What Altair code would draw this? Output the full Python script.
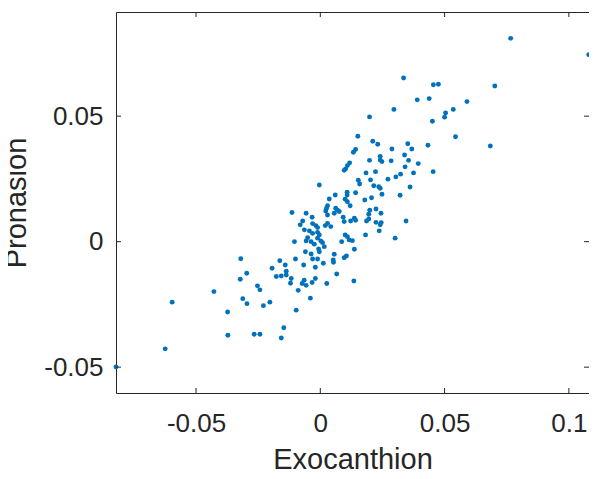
import altair as alt
import pandas as pd

# Exocanthion (x) and Pronasion (y) values
X = [0.0335, 0.0455, 0.0390, 0.0438, 0.0296, 0.0198, 0.0451, 0.0151, 0.0211, 0.0231,
     0.0352, 0.0433, 0.0766, 0.1080, 0.0475, 0.0702, 0.0590, 0.0535, 0.0504, 0.0500,
     0.0544, 0.0684, -0.0320, -0.0194, -0.0296, -0.0322, -0.0428, -0.0253, -0.0243, -0.0596,
     -0.0312, -0.0295, -0.0229, -0.0203, -0.0373, -0.0372, -0.0266, -0.0243, -0.0624, -0.0822,
     -0.0137, -0.0177, -0.0157, -0.0137, -0.0117, -0.0120, -0.0065, -0.0073, -0.0057, -0.0033,
     -0.0020, 0.0066, 0.0026, 0.0135, -0.0089, -0.0040, -0.0097, -0.0147, -0.0157,
     0.0142, 0.0133, 0.0288, 0.0368, 0.0241, 0.0241, 0.0248, 0.0198, 0.0285, 0.0339,
     0.0355, 0.0394, 0.0118, 0.0109, 0.0102, 0.0096, 0.0341, 0.0454, 0.0184, 0.0222,
     0.0323, 0.0304, 0.0375, 0.0272, 0.0202, 0.0153, 0.0158, 0.0215, 0.0235, 0.0241,
     0.0248, 0.0361, -0.0004, 0.0142, 0.0108, 0.0108, 0.0060, 0.0321, 0.0206, 0.0179,
     0.0100, 0.0109, 0.0120, 0.0036, 0.0029, 0.0025, 0.0022, 0.0029, 0.0062, 0.0069,
     0.0076, 0.0056, 0.0224, 0.0199, 0.0195, 0.0244, 0.0092, 0.0096, 0.0137, 0.0142,
     0.0122, 0.0195, 0.0186, 0.0224, 0.0245, 0.0241, -0.0114, -0.0057, -0.0033, -0.0071,
     -0.0081, -0.0031, -0.0018, -0.0011, 0.0020, 0.0029, 0.0042, 0.0345, -0.0064, -0.0044,
     -0.0031, -0.0011, -0.0004, -0.0011, -0.0051, -0.0057, -0.0037, 0.0002, 0.0009, 0.0016,
     -0.0024, -0.0104, 0.0237, 0.0182, 0.0100, 0.0109, 0.0116, 0.0129, 0.0086, 0.0301,
     0.0137, -0.0060, -0.0037, -0.0007, -0.0004, 0.0056, 0.0052, 0.0053, 0.0105, 0.0096,
     -0.0100, -0.0031, -0.0011, 0.0012, -0.0067, -0.0163, -0.0141, -0.0020]
Y = [0.0652, 0.0625, 0.0565, 0.0570, 0.0527, 0.0497, 0.0480, 0.0420, 0.0400, 0.0388,
     0.0390, 0.0384, 0.0810, 0.0745, 0.0627, 0.0620, 0.0558, 0.0527, 0.0513, 0.0496,
     0.0418, 0.0381, -0.0068, -0.0106, -0.0126, -0.0150, -0.0199, -0.0176, -0.0192, -0.0241,
     -0.0227, -0.0247, -0.0255, -0.0241, -0.0280, -0.0373, -0.0369, -0.0369, -0.0427, -0.0499,
     -0.0118, -0.0139, -0.0137, -0.0133, -0.0147, -0.0166, -0.0154, -0.0167, -0.0174, -0.0163,
     -0.0147, -0.0129, -0.0167, -0.0157, -0.0194, -0.0225, -0.0273, -0.0343, -0.0384,
     0.0367, 0.0356, 0.0369, 0.0369, 0.0339, 0.0325, 0.0319, 0.0324, 0.0322, 0.0345,
     0.0324, 0.0311, 0.0314, 0.0303, 0.0290, 0.0284, 0.0298, 0.0279, 0.0274, 0.0279,
     0.0269, 0.0258, 0.0274, 0.0249, 0.0246, 0.0245, 0.0230, 0.0223, 0.0219, 0.0213,
     0.0189, 0.0218, 0.0226, 0.0195, 0.0197, 0.0186, 0.0186, 0.0185, 0.0175, 0.0166,
     0.0169, 0.0159, 0.0143, 0.0170, 0.0143, 0.0133, 0.0122, 0.0106, 0.0133, 0.0125,
     0.0120, 0.0113, 0.0130, 0.0125, 0.0109, 0.0113, 0.0097, 0.0080, 0.0093, 0.0085,
     0.0082, 0.0090, 0.0082, 0.0077, 0.0076, 0.0067, 0.0116, 0.0113, 0.0097, 0.0082,
     0.0067, 0.0072, 0.0064, 0.0056, 0.0064, 0.0073, 0.0060, 0.0082, 0.0047, 0.0043,
     0.0033, 0.0037, 0.0027, 0.0014, 0.0016, 0.0003, 0.0000, 0.0003, -0.0004, -0.0020,
     -0.0010, 0.0000, 0.0043, 0.0027, 0.0027, 0.0020, 0.0007, 0.0004, 0.0000, 0.0014,
     -0.0030, -0.0040, -0.0049, -0.0029, -0.0040, -0.0050, -0.0073, -0.0082, -0.0057, -0.0064,
     -0.0069, -0.0069, -0.0069, -0.0086, -0.0093, -0.0076, -0.0093, -0.0102]

X_TICKS = [-0.05, 0, 0.05, 0.1]
Y_TICKS = [-0.05, 0, 0.05]
X_DOMAIN = [-0.0822, 0.1081]
Y_DOMAIN = [-0.0603, 0.0915]

W, H = 473, 381
TXT = "#262626"
FONT = "Liberation Sans"
TL = 5

df = pd.DataFrame({"x": X, "y": Y})
xt = pd.DataFrame({"t": X_TICKS})
yt = pd.DataFrame({"t": Y_TICKS})

xs = alt.Scale(domain=X_DOMAIN, nice=False, zero=False)
ys = alt.Scale(domain=Y_DOMAIN, nice=False, zero=False)

xaxis = alt.Axis(values=X_TICKS, labelExpr="'' + datum.value", grid=False, domain=False,
                 ticks=False, labelFontSize=26, labelColor=TXT, labelFont=FONT,
                 labelPadding=17, title="Exocanthion", titleFontSize=29,
                 titleFontWeight="normal", titleColor=TXT, titleFont=FONT, titlePadding=9)
yaxis = alt.Axis(values=Y_TICKS, labelExpr="'' + datum.value", grid=False, domain=False,
                 ticks=False, labelFontSize=26, labelColor=TXT, labelFont=FONT,
                 labelPadding=13, title="Pronasion", titleFontSize=29,
                 titleFontWeight="normal", titleColor=TXT, titleFont=FONT, titlePadding=12)

pts = alt.Chart(df).mark_circle(size=24, opacity=1, color="#0072BD").encode(
    x=alt.X("x:Q", scale=xs, axis=xaxis),
    y=alt.Y("y:Q", scale=ys, axis=yaxis),
)

tick_style = dict(color=TXT, strokeWidth=1)
xb = alt.Chart(xt).mark_rule(**tick_style).encode(
    x=alt.X("t:Q", scale=xs, axis=xaxis), y=alt.value(H), y2=alt.value(H - TL))
xtop = alt.Chart(xt).mark_rule(**tick_style).encode(
    x=alt.X("t:Q", scale=xs, axis=xaxis), y=alt.value(0), y2=alt.value(TL))
yl = alt.Chart(yt).mark_rule(**tick_style).encode(
    y=alt.Y("t:Q", scale=ys, axis=yaxis), x=alt.value(0), x2=alt.value(TL))
yr = alt.Chart(yt).mark_rule(**tick_style).encode(
    y=alt.Y("t:Q", scale=ys, axis=yaxis), x=alt.value(W), x2=alt.value(W - TL))

chart = alt.layer(pts, xb, xtop, yl, yr).properties(
    width=W, height=H,
    autosize=alt.AutoSizeParams(type="none"),
    padding={"left": 108, "top": 4, "right": 0, "bottom": 78},
).configure_view(stroke=TXT, strokeWidth=1)

chart.save("out.html", embed_options={"renderer": "svg", "actions": False})
